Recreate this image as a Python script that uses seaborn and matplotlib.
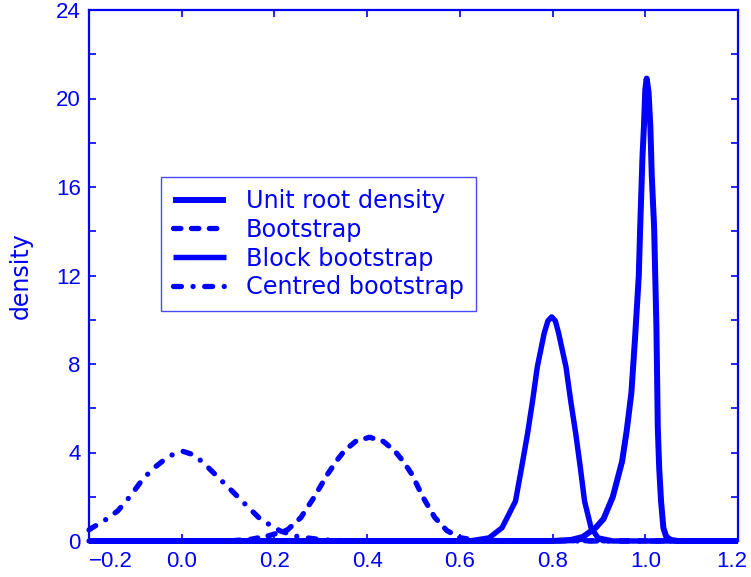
import matplotlib
matplotlib.use("Agg")
import matplotlib.pyplot as plt
import seaborn as sns
import pandas as pd
from matplotlib import font_manager
from matplotlib.ticker import FixedLocator, MultipleLocator
from matplotlib.transforms import ScaledTranslation

# ---------------- data ----------------
ur_x = [-0.20, 0.80, 0.84, 0.865, 0.893, 0.91, 0.93, 0.95, 0.96, 0.97, 0.978, 0.986,
        0.989, 0.994, 0.997, 1.000, 1.003, 1.007, 1.011, 1.014, 1.019, 1.024, 1.027,
        1.030, 1.034, 1.039, 1.045, 1.055, 1.07, 1.20]
ur_y = [0, 0, 0.05, 0.18, 0.6, 1.0, 2.0, 3.6, 5.0, 6.7, 9.2, 12.0,
        14.2, 17.4, 18.7, 20.4, 20.9, 20.3, 18.7, 16.5, 14.2, 9.7, 5.1,
        3.3, 1.8, 0.6, 0.2, 0.05, 0, 0]

bs_x = [-0.20, 0.10, 0.15, 0.19, 0.228, 0.257, 0.285, 0.315, 0.335, 0.351, 0.375,
        0.405, 0.435, 0.459, 0.478, 0.496, 0.521, 0.546, 0.572, 0.60, 0.64, 1.20]
bs_y = [0, 0, 0.08, 0.25, 0.5, 1.06, 1.96, 3.03, 3.65, 4.08, 4.5,
        4.69, 4.5, 4.08, 3.6, 3.03, 1.96, 1.06, 0.47, 0.15, 0.02, 0]

bl_x = [-0.20, 0.62, 0.663, 0.691, 0.72, 0.733, 0.746, 0.757, 0.767, 0.782, 0.790,
        0.798, 0.806, 0.813, 0.829, 0.839, 0.850, 0.860, 0.869, 0.883, 0.898, 0.93, 1.20]
bl_y = [0, 0, 0.14, 0.6, 1.8, 3.3, 4.85, 6.35, 7.86, 9.4, 9.95,
        10.13, 9.95, 9.4, 7.86, 6.35, 4.85, 3.3, 1.8, 0.6, 0.14, 0, 0]

cb_x = [-0.20, -0.193, -0.165, -0.138, -0.11, -0.084, -0.06, -0.04, -0.02, 0.003,
        0.025, 0.046, 0.075, 0.108, 0.14, 0.170, 0.213, 0.25, 0.30, 0.36, 1.20]
cb_y = [0.5, 0.6, 0.95, 1.36, 2.05, 2.8, 3.3, 3.63, 3.9, 4.05,
        3.9, 3.55, 2.95, 2.27, 1.6, 0.98, 0.45, 0.2, 0.06, 0, 0]

series_labels = ["Unit root density", "Bootstrap", "Block bootstrap", "Centred bootstrap"]
x_ticks = [-0.2, 0.0, 0.2, 0.4, 0.6, 0.8, 1.0, 1.2]
x_tick_labels = ["\u22120.2", "0.0", "0.2", "0.4", "0.6", "0.8", "1.0", "1.2"]
y_ticks = [0, 4, 8, 12, 16, 20, 24]
y_tick_labels = ["0", "4", "8", "12", "16", "20", "24"]
y_label = "density"

# ---------------- style ----------------
sns.set_style("ticks")
names = {f.name for f in font_manager.fontManager.ttflist}
tick_font = "Liberation Sans" if "Liberation Sans" in names else "DejaVu Sans"
tick_size = 16 if tick_font == "Liberation Sans" else 14
plt.rcParams["font.family"] = ["DejaVu Sans"]

BLUE = "#0000ff"

fig = plt.figure(figsize=(7.51, 5.77), dpi=100)
ax = fig.add_axes([89 / 751, 1 - 541 / 577, (738 - 89) / 751, (541 - 10) / 577])

styles = [
    dict(lw=4.3, linestyle="-", solid_capstyle="butt"),
    dict(lw=3.8, linestyle=(0, (1.4, 2.0)), dash_capstyle="round"),
    dict(lw=3.9, linestyle="-", solid_capstyle="butt"),
    dict(lw=3.8, linestyle=(0, (1.5, 2.2, 0.01, 2.2)), dash_capstyle="round"),
]
data = [(ur_x, ur_y), (bs_x, bs_y), (bl_x, bl_y), (cb_x, cb_y)]

for (xs, ys), lab, st in zip(data, series_labels, styles):
    df = pd.DataFrame({"x": xs, "y": ys})
    sns.lineplot(data=df, x="x", y="y", ax=ax, color=BLUE, sort=False,
                 estimator=None, label=lab, clip_on=False, **st)

ax.set_xlim(-0.2, 1.2)
ax.set_ylim(0, 24)

ax.tick_params(which="both", direction="in", top=True, right=True, colors=BLUE,
               length=5, width=1.2)
ax.tick_params(axis="x", pad=7)
ax.tick_params(axis="y", pad=6)

ax.xaxis.set_major_locator(FixedLocator(x_ticks))
ax.set_xticklabels(x_tick_labels, fontfamily=tick_font, fontsize=tick_size, color=BLUE)
ax.yaxis.set_major_locator(FixedLocator(y_ticks))
ax.yaxis.set_minor_locator(MultipleLocator(2))
ax.set_yticklabels(y_tick_labels, fontfamily=tick_font, fontsize=tick_size, color=BLUE)

xl = ax.get_xticklabels()
xl[0].set_horizontalalignment("left")
xl[-1].set_transform(xl[-1].get_transform() + ScaledTranslation(-6 / 100, 0, fig.dpi_scale_trans))

for sp in ax.spines.values():
    sp.set_color(BLUE)
    sp.set_linewidth(1.6)

ax.set_xlabel("")
ax.set_ylabel(y_label, color=BLUE, fontsize=17, fontfamily="DejaVu Sans")
ax.yaxis.set_label_coords(-0.086, 0.5)

leg = ax.legend(loc="upper left", bbox_to_anchor=(161 / 751, 1 - 177 / 577),
                bbox_transform=fig.transFigure, borderaxespad=0, frameon=True,
                fancybox=False, handlelength=2.2, handletextpad=0.85,
                borderpad=0.5, labelspacing=0.2, prop={"family": "DejaVu Sans", "size": 17.2})
leg.get_frame().set_edgecolor("#4a4aff")
leg.get_frame().set_linewidth(1.0)
leg.get_frame().set_alpha(1)
for t in leg.get_texts():
    t.set_color(BLUE)

fig.savefig("out.png", dpi=100)
